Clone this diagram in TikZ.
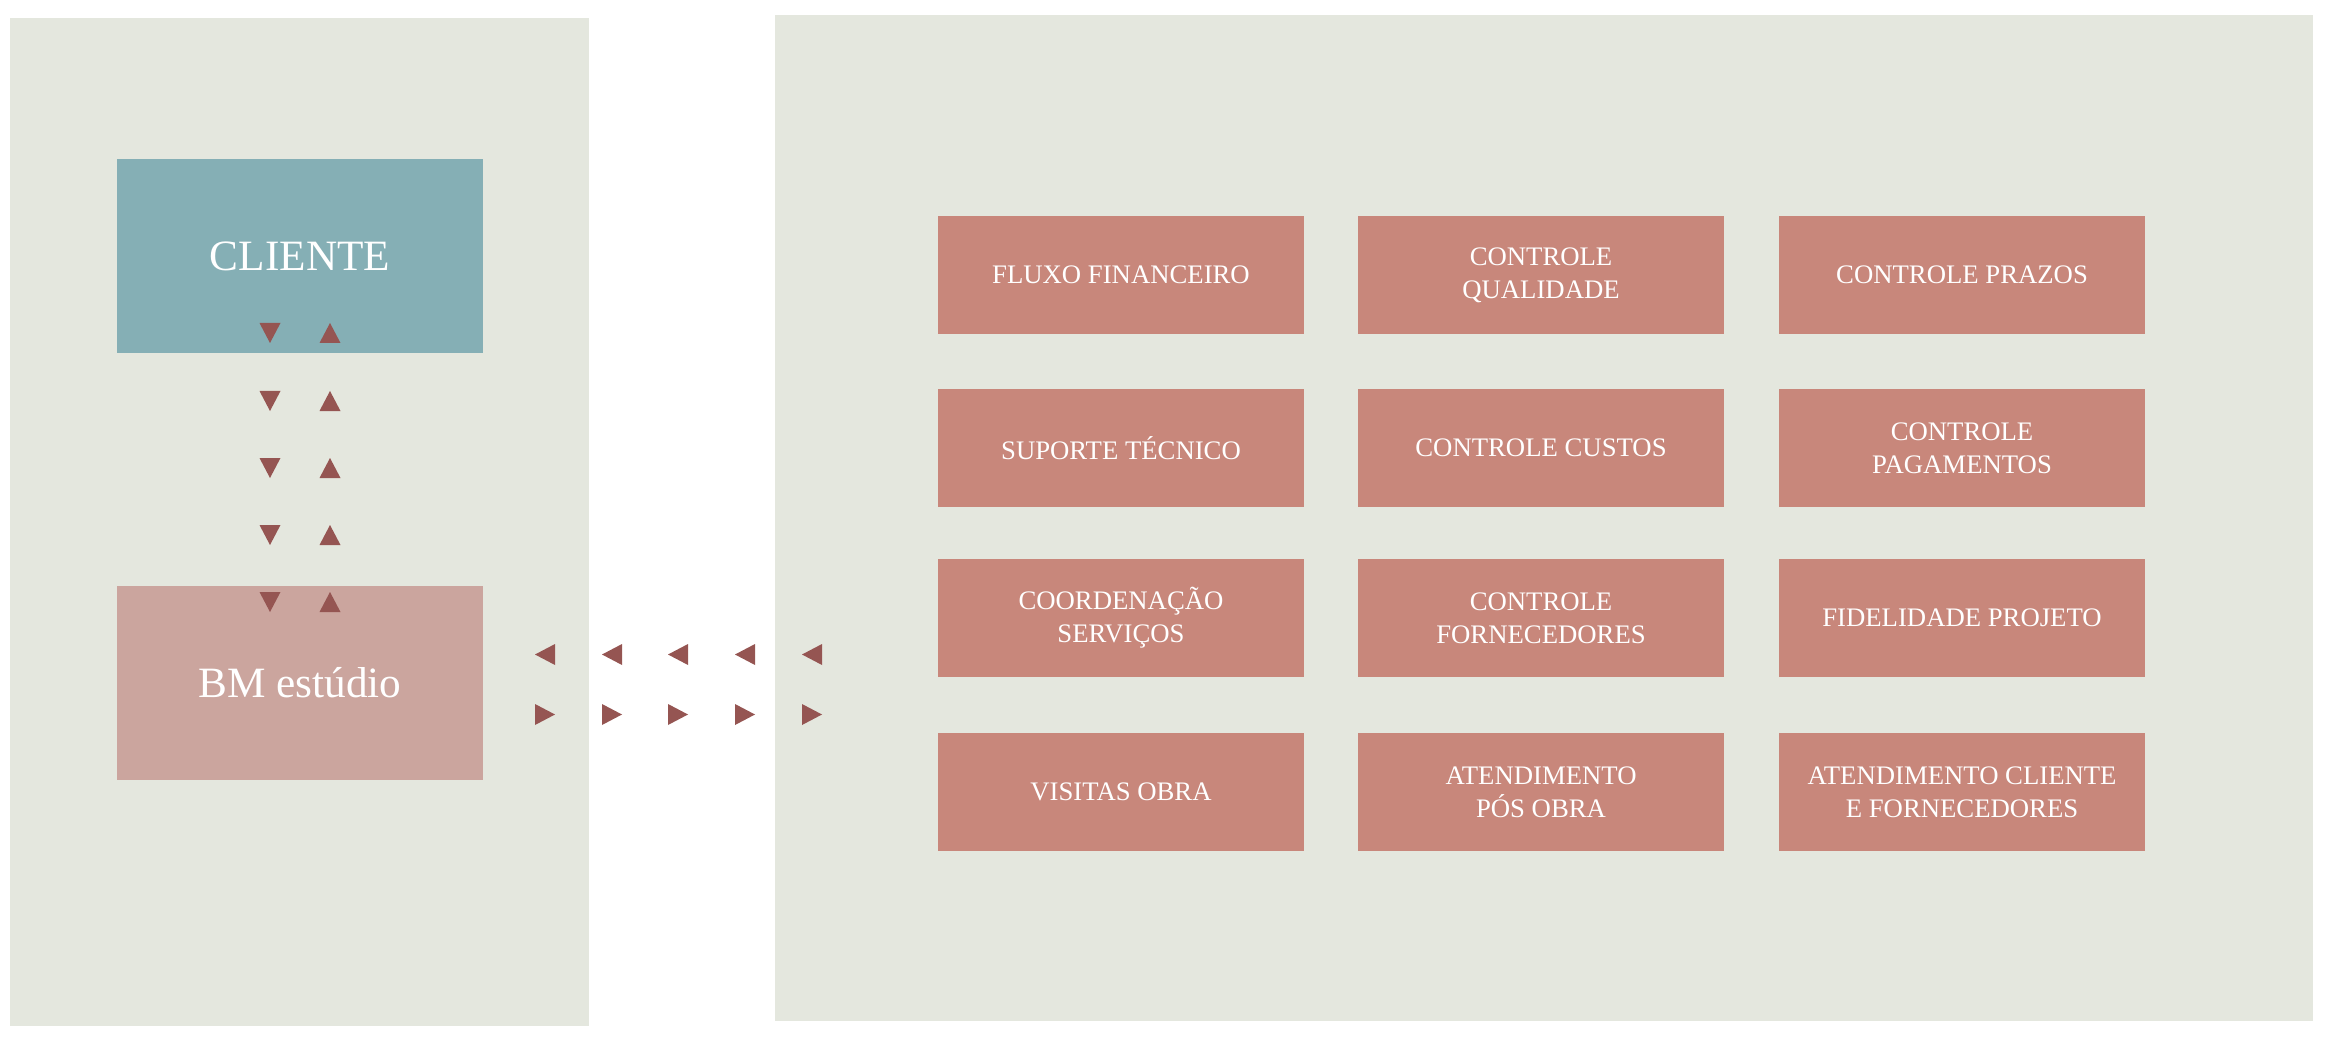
\documentclass[tikz,border=0pt]{standalone}
\usepackage{fontspec}
\setmainfont{Liberation Serif}
\definecolor{panelbg}{HTML}{E4E7DE}
\definecolor{clientebg}{HTML}{85AFB5}
\definecolor{estudiobg}{HTML}{CBA59E}
\definecolor{tarefabg}{HTML}{C8877B}
\definecolor{setacor}{HTML}{955552}

\begin{document}
\begin{tikzpicture}[x=0.01cm, y=-0.01cm,
  bigbox/.style={minimum width=3.66cm, minimum height=1.93cm, inner sep=0pt,
    text=white, font=\fontsize{12.3}{15}\selectfont},
  tarefa/.style={fill=tarefabg, minimum width=3.65cm, minimum height=1.18cm,
    inner sep=0pt, text=white, align=center,
    font=\fontsize{7.6}{9.4}\selectfont},
  seta/.style={fill=setacor},
]
  \useasboundingbox (0,0) rectangle (2334,1040);
  % fundos
  \fill[panelbg] (10,18) rectangle (589,1026);
  \fill[panelbg] (775,15) rectangle (2313,1021);

  \node[bigbox, fill=clientebg] (cliente) at (300,256) {CLIENTE};
  \node[bigbox, fill=estudiobg] (estudio) at (300,683) {BM estúdio};

  % setas verticais
  \foreach \y in {333,401,468,535,602} {
    \fill[seta] (259.5,\y-10) -- (280.5,\y-10) -- (270,\y+10) -- cycle;
    \fill[seta] (319.5,\y+10) -- (340.5,\y+10) -- (330,\y-10) -- cycle;
  }
  % setas horizontais
  \foreach \x in {545,612,678,745,812} {
    \fill[seta] (\x+10,644) -- (\x+10,665) -- (\x-10,654.5) -- cycle;
    \fill[seta] (\x-10,704) -- (\x-10,725) -- (\x+10,714.5) -- cycle;
  }

  % tarefas
  \node[tarefa] (fluxo)       at (1121,275) {FLUXO FINANCEIRO};
  \node[tarefa] (qualidade)   at (1541,275) {CONTROLE\\QUALIDADE};
  \node[tarefa] (prazos)      at (1962,275) {CONTROLE PRAZOS};
  \node[tarefa] (suporte)     at (1121,448) {SUPORTE TÉCNICO};
  \node[tarefa] (custos)      at (1541,448) {CONTROLE CUSTOS};
  \node[tarefa] (pagamentos)  at (1962,448) {CONTROLE\\PAGAMENTOS};
  \node[tarefa] (coordenacao) at (1121,618) {COORDENAÇÃO\\SERVIÇOS};
  \node[tarefa] (fornecedores) at (1541,618) {CONTROLE\\FORNECEDORES};
  \node[tarefa] (fidelidade)  at (1962,618) {FIDELIDADE PROJETO};
  \node[tarefa] (visitas)     at (1121,792) {VISITAS OBRA};
  \node[tarefa] (posobra)     at (1541,792) {ATENDIMENTO\\PÓS OBRA};
  \node[tarefa] (atendimento) at (1962,792) {ATENDIMENTO CLIENTE\\E FORNECEDORES};
\end{tikzpicture}
\end{document}
